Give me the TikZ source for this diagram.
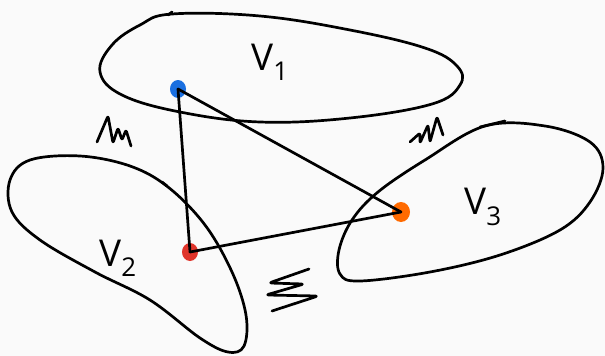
\documentclass[tikz,border=0pt]{standalone}
\usepackage{fontspec}
\setmainfont{Open Sans}
\usetikzlibrary{shapes.geometric}
\definecolor{bg}{HTML}{FAFAFA}
\definecolor{dotblue}{HTML}{1A6FE0}
\definecolor{dotred}{HTML}{E0352B}
\definecolor{dotorange}{HTML}{FF6A00}
\begin{document}
\begin{tikzpicture}[x=1pt,y=-1pt,
  ink/.style={line width=2.7pt,line cap=round,line join=round,black},
  vtx/.style={ellipse,minimum width=16pt,minimum height=18pt,inner sep=0pt,draw=none},
  lbl/.style={font=\fontsize{37}{44}\selectfont,inner sep=0pt}]
\useasboundingbox[fill=bg] (0,0) rectangle (605,356);
% set V1
\draw[ink] plot[smooth cycle,tension=0.65] coordinates {(172,14) (260,16) (350,30) (425,48) (457,66) (460,85) (432,104) (350,118) (260,122) (180,112) (122,95) (100,72) (112,45) (140,25)};
\draw[ink] (168,15) -- (172,12);
% set V2
\draw[ink] plot[smooth cycle,tension=0.6] coordinates {(30,160) (80,156) (130,166) (168,187) (205,225) (232,272) (246,315) (244,346) (228,352) (200,338) (150,300) (95,272) (40,240) (12,212) (10,180)};
\draw[ink] (162,182) -- (167,186);
% set V3
\draw[ink] plot[smooth cycle,tension=0.6] coordinates {(485,126) (545,126) (590,142) (603,168) (590,202) (560,230) (500,255) (430,272) (360,281) (340,274) (339,250) (352,220) (378,192) (425,160)};
\draw[ink] (480,127) -- (505,121);
% scribbles
\draw[ink,rounded corners=2pt] (97,142) -- (108,116) -- (113,143) -- (118,128) -- (122,140) -- (126,130) -- (131,146);
\draw[ink,rounded corners=2pt] (410,142) -- (420,133) -- (420,143) -- (428,125) -- (430,142) -- (437,117) -- (443,135);
\draw[ink,rounded corners=3pt] (309,269) -- (269,283) -- (304,284) -- (266,295) -- (318,296) -- (272,311);
% vertices
\node[vtx,fill=dotblue] (a) at (178,89) {};
\node[vtx,fill=dotred] (b) at (190,252) {};
\node[vtx,fill=dotorange,minimum width=18pt,minimum height=20pt] (c) at (401,212) {};
\draw[ink] (a.center) -- (b.center);
\draw[ink] (a.center) -- (c.center);
\draw[ink] (b.center) -- (c.center);
% labels
\node[lbl] (l1) at (270,62) {V\textsubscript{1}};
\node[lbl] (l2) at (118,258) {V\textsubscript{2}};
\node[lbl] (l3) at (483,207) {V\textsubscript{3}};
\end{tikzpicture}
\end{document}
